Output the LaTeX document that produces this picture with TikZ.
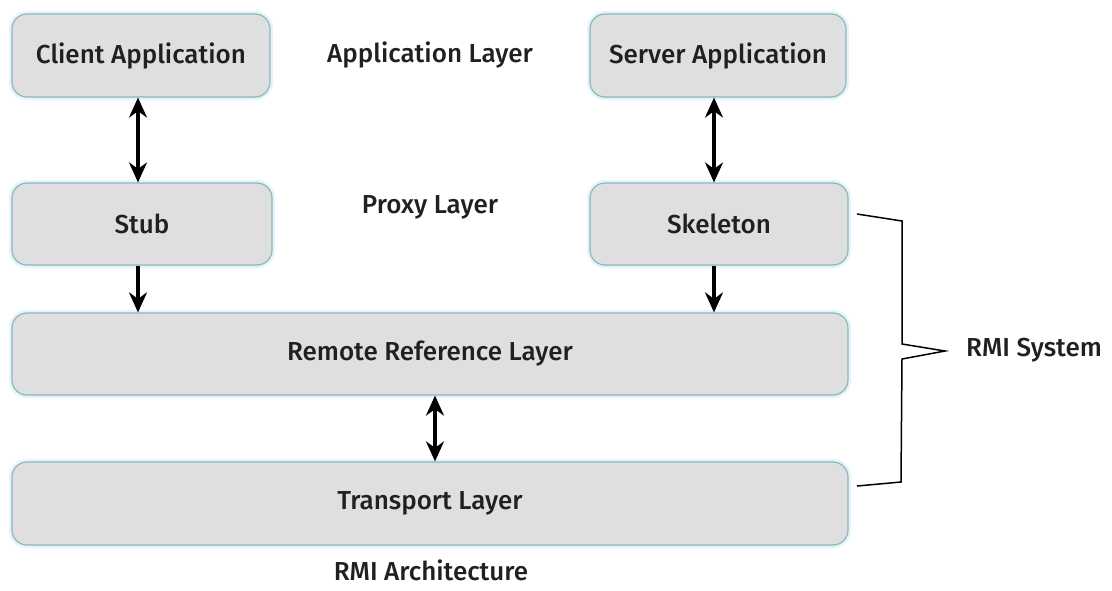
\documentclass[tikz,border=0pt]{standalone}
\usepackage{fontspec}
\setmainfont{Fira Sans Medium}
\usetikzlibrary{arrows.meta}
\definecolor{boxfill}{HTML}{DFDFDF}
\definecolor{boxdraw}{HTML}{8DB6BE}
\definecolor{glow}{HTML}{E4F5F8}
\definecolor{txt}{HTML}{202020}
\begin{document}
\begin{tikzpicture}[x=1pt,y=-1pt,
  layerbox/.style={rectangle, rounded corners=15pt, fill=boxfill, draw=boxdraw, line width=1.2pt,
    font=\fontsize{26}{30}\selectfont, text=txt, inner sep=0pt,
    preaction={draw=glow, line width=6pt}},
  lbl/.style={font=\fontsize{26}{30}\selectfont, text=txt, inner sep=0pt},
  arr/.style={line width=3.6pt, -{Stealth[length=20pt,width=18pt]}},
  darr/.style={line width=3.6pt, {Stealth[length=20pt,width=18pt]}-{Stealth[length=20pt,width=18pt]}}]
\useasboundingbox (0,0) rectangle (1112,590);
\fill[white] (0,0) rectangle (1112,590);
\node[layerbox, minimum width=258pt, minimum height=83pt] (client) at (141,55.5) {Client Application};
\node[layerbox, minimum width=256pt, minimum height=83pt] (server) at (718,55.5) {Server Application};
\node[layerbox, minimum width=260pt, minimum height=82pt] (stub) at (142,224) {Stub};
\node[layerbox, minimum width=258pt, minimum height=82pt] (skel) at (719,224) {Skeleton};
\node[layerbox, minimum width=836pt, minimum height=82pt] (rrl) at (430,354) {Remote Reference Layer};
\node[layerbox, minimum width=836pt, minimum height=83pt] (trans) at (430,503.5) {Transport Layer};
\node[lbl] (applbl) at (430,55) {Application Layer};
\node[lbl] (proxylbl) at (430,207) {Proxy Layer};
\node[lbl, anchor=base] (archlbl) at (431,580) {RMI Architecture};
\node[lbl, anchor=west] (syslbl) at (966,350) {RMI System};
\draw[darr] (client.south -| 138,0) -- (stub.north -| 138,0);
\draw[darr] (server.south -| 714,0) -- (skel.north -| 714,0);
\draw[arr] (stub.south -| 138,0) -- (rrl.north -| 138,0);
\draw[arr] (skel.south -| 714,0) -- (rrl.north -| 714,0);
\draw[darr] (rrl.south -| 435,0) -- (trans.north -| 435,0);
\coordinate (b1) at (857,214);
\coordinate (b7) at (857,486);
\draw[line width=1.5pt, line join=miter] (b1) -- (902,221) -- (902,344) -- (945,351) -- (902,359) -- (901,482) -- (b7);
\end{tikzpicture}
\end{document}
